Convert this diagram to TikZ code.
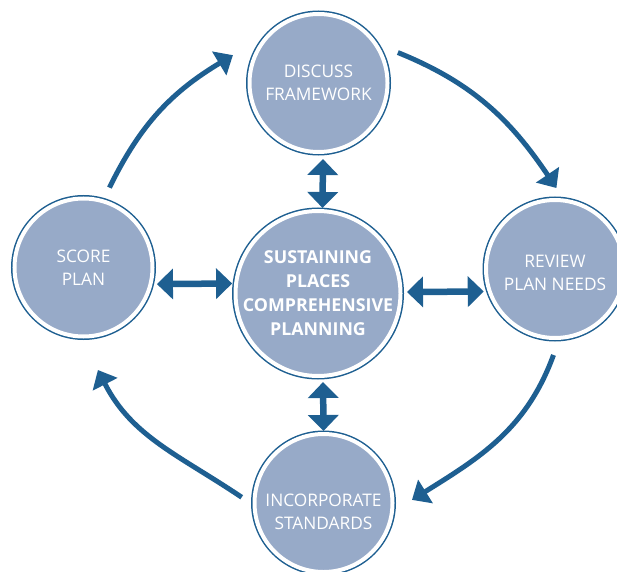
\documentclass[tikz,border=0pt]{standalone}
\usepackage{fontspec}
\setmainfont{Open Sans}
\usetikzlibrary{arrows.meta,calc}
\definecolor{ringblue}{HTML}{1E5F91}
\definecolor{discblue}{HTML}{97AAC8}
\tikzset{
  plan/.style={circle, minimum size=138pt, inner sep=-30pt, outer sep=0pt,
    fill=discblue, draw=white, line width=4pt,
    preaction={draw=ringblue, line width=7pt},
    text=white, align=center, font=\fontsize{17.3}{23}\selectfont},
  hubdisc/.style={plan, minimum size=165pt, font=\bfseries\fontsize{17.8}{24}\selectfont},
  planlabel/.style={text=white, align=center, font=\fontsize{17.3}{23}\selectfont},
  roundarrow/.style={draw=ringblue, line width=5pt, -{Triangle[length=16pt,width=27pt]}},
  twoway/.style={draw=ringblue, line width=6.5pt,
    {Triangle[length=16pt,width=30pt]}-{Triangle[length=16pt,width=30pt]}},
}
\begin{document}
\begin{tikzpicture}[x=1pt, y=1pt]
  \useasboundingbox (0, 0) rectangle (617, 571);
  \clip (0, 0) rectangle (617, 571);
  \node[hubdisc] (hub) at (318, 277.5) {SUSTAINING\\PLACES\\COMPREHENSIVE\\PLANNING};
  \node[plan] (discuss) at (318.5, 488) {DISCUSS\\FRAMEWORK};
  \node[plan] (score) at (83.5, 303.5) {SCORE\\PLAN};
  \node[plan, label={[planlabel, yshift=-4pt]center:REVIEW\\PLAN NEEDS}] (review) at (555, 302) {};
  \node[plan, label={[planlabel, yshift=-9pt]center:INCORPORATE\\STANDARDS}] (incorporate) at (323.5, 68) {};
  % cycle round the hub
  \draw[roundarrow] ($(score)+(72:84)$) to[out=64, in=211] ($(discuss)+(162:90)$);
  \draw[roundarrow] ($(discuss)+(21:85)$) to[out=-22, in=124] ($(review)+(89:81)$);
  \draw[roundarrow] ($(review)+(269:86)$) to[out=250, in=32] ($(incorporate)+(2:88.5)$);
  \draw[roundarrow] ($(incorporate)+(176:82)$) to[out=146, in=297] ($(score)+(278:103.5)$);
  % hub links
  \draw[twoway, shorten <=7pt, shorten >=3pt] ([xshift=4.5pt]discuss.south) -- ([xshift=4.5pt]hub.north);
  \draw[twoway, shorten <=6pt, shorten >=3pt] ([xshift=5pt]hub.south) -- (incorporate.north);
  \draw[twoway, shorten <=6.5pt, shorten >=4pt] (score.-14) -- (hub.173);
  \draw[twoway, shorten <=6.5pt, shorten >=6pt] (hub.1) -- (review.199.5);
\end{tikzpicture}
\end{document}
